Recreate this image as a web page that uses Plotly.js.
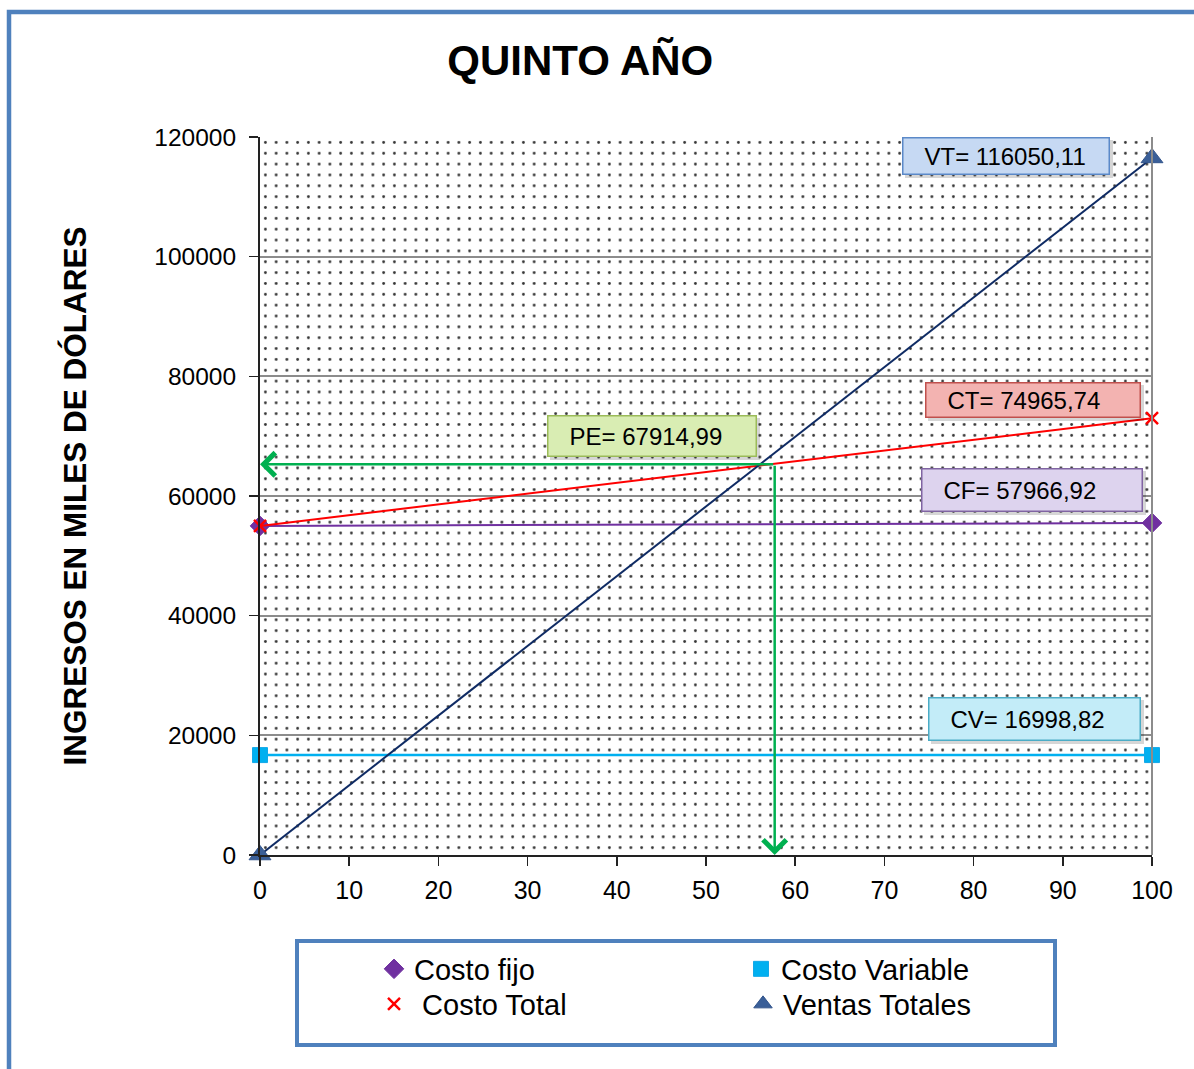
<!DOCTYPE html>
<html>
<head>
<meta charset="utf-8">
<script src="https://cdn.plot.ly/plotly-3.0.1.min.js"></script>
<style>
html,body{margin:0;padding:0;background:#fff;}
#chart{width:1194px;height:1069px;}
</style>
</head>
<body>
<div id="chart"></div>
<script>
// ---- data ----
const xVals = [0, 100];
const costoFijo = [55000, 55500];
const costoVariable = [16700, 16700];
const costoTotal = [55000, 73000];
const ventasTotales = [0, 116500];
const peX = 57.7;
const peY = 65300;
const seriesNames = ['Costo fijo', 'Costo Variable', 'Costo Total', 'Ventas Totales'];
const boxLabels = ['VT= 116050,11', 'CT= 74965,74', 'PE= 67914,99', 'CF= 57966,92', 'CV= 16998,82'];
const yTicks = [0, 20000, 40000, 60000, 80000, 100000, 120000];
const xTicks = [0, 10, 20, 30, 40, 50, 60, 70, 80, 90, 100];

const FONT = '"Liberation Sans", Arial, sans-serif';

// plot area in pixels (for decoration placement only)
const PL = 260, PR = 1152, PT = 137, PB = 855;
const px2x = p => (p - PL) / (PR - PL);
const px2y = p => (PB - p) / (PB - PT);

const styles = [
  {line: {color: '#7030a0', width: 2},
   marker: {symbol: 'diamond', size: 15, color: '#7030a0', line: {color: '#6a2a9c', width: 1}}},
  {line: {color: '#00b0f0', width: 2.5},
   marker: {symbol: 'square', size: 15, color: '#00b0f0', line: {color: '#13a8e8', width: 1}}},
  {line: {color: '#ff0000', width: 2},
   marker: {symbol: 'x-thin', size: 12, color: '#ff0000', line: {color: '#ff0000', width: 2.5}}},
  {line: {color: '#0f2b64', width: 2},
   marker: {symbol: 'triangle-up', size: 19, color: '#3a5f98', line: {color: '#33558c', width: 1}}}
];
const yData = [costoFijo, costoVariable, costoTotal, ventasTotales];
const legendIds = ['legend', 'legend2', 'legend3', 'legend4'];
const legendText = [seriesNames[0], seriesNames[1], '&nbsp;' + seriesNames[2], seriesNames[3]];

const traces = [];
yData.forEach((yv, i) => {
  traces.push({
    x: xVals, y: yv, name: seriesNames[i], mode: 'lines+markers', cliponaxis: false,
    showlegend: false, line: styles[i].line, marker: styles[i].marker
  });
});
// legend-only entries (marker only, like the reference legend)
yData.forEach((yv, i) => {
  traces.push({
    x: [null], y: [null], name: legendText[i], mode: 'markers', legend: legendIds[i],
    showlegend: true, marker: styles[i].marker
  });
});

// dotted plot-area background
const svg = "<svg xmlns='http://www.w3.org/2000/svg' width='892' height='718' viewBox='0 0 892 718' preserveAspectRatio='none'>" +
  "<defs><pattern id='p' x='0' y='0' width='10.75' height='10.85' patternUnits='userSpaceOnUse'>" +
  "<circle cx='5.4' cy='5.4' r='1.4' fill='#333333'/></pattern></defs>" +
  "<rect x='0' y='0' width='892' height='718' fill='url(#p)'/></svg>";
const bgImg = 'data:image/svg+xml;charset=utf-8,' + encodeURIComponent(svg);

function box(text, x, y, w, h, bg, border) {
  return {
    text: '&nbsp;&nbsp;&nbsp;' + text, x: x, y: y, xref: 'x', yref: 'y',
    xanchor: 'left', yanchor: 'top', showarrow: false, align: 'left', valign: 'middle',
    width: w - 5, height: h - 5, borderpad: 1, borderwidth: 1.5,
    bgcolor: bg, bordercolor: border,
    font: {family: FONT, size: 24, color: '#000'}
  };
}

// box pixel rectangles [left, top, width, height]
const boxes = [
  [902, 137, 208, 38, '#c6d9f3', '#5b89c8'],
  [925, 382, 216, 36, '#f3b3b1', '#c0504d'],
  [547, 415, 210, 42, '#d9edb3', '#9bbb59'],
  [921, 468, 222, 44, '#ddd3ee', '#8064a2'],
  [928, 697, 213, 44, '#c3ecf8', '#4bacc6']
];

const annotations = boxes.map((b, i) =>
  box(boxLabels[i], px2x(b[0]) * 100, px2y(b[1]) * 120000, b[2], b[3], b[4], b[5]));
annotations.push(
  {x: 0, y: peY, ax: peX, ay: peY, xref: 'x', yref: 'y', axref: 'x', ayref: 'y',
   showarrow: true, arrowhead: 4, arrowsize: 1.8, arrowwidth: 2.5, arrowcolor: '#00b050', text: ''},
  {x: peX, y: 0, ax: peX, ay: peY, xref: 'x', yref: 'y', axref: 'x', ayref: 'y',
   showarrow: true, arrowhead: 4, arrowsize: 1.8, arrowwidth: 2.5, arrowcolor: '#00b050', text: ''}
);

const shapes = [
  // right border of plot area
  {type: 'line', xref: 'paper', yref: 'paper', x0: 1, x1: 1, y0: 0, y1: 1,
   line: {color: '#8c8c8c', width: 2}},
  // legend frame
  {type: 'rect', xref: 'paper', yref: 'paper', x0: px2x(297), x1: px2x(1055), y0: px2y(941), y1: px2y(1045),
   line: {color: '#4f81bd', width: 4}, fillcolor: 'rgba(0,0,0,0)'},
  // outer frame (top and left)
  {type: 'path', xref: 'paper', yref: 'paper',
   path: 'M ' + px2x(9) + ',' + px2y(1075) + ' L ' + px2x(9) + ',' + px2y(12) + ' L ' + px2x(1200) + ',' + px2y(12),
   line: {color: '#4f81bd', width: 4.5}}
];
// soft shadows behind the label boxes
boxes.forEach(b => {
  shapes.push({type: 'rect', xref: 'paper', yref: 'paper', layer: 'above',
    x0: px2x(b[0] + 3), x1: px2x(b[0] + b[2] + 3), y0: px2y(b[1] + 3), y1: px2y(b[1] + b[3] + 3),
    line: {width: 0}, fillcolor: 'rgba(0,0,0,0.16)'});
});

const legendFont = {family: FONT, size: 29, color: '#000'};
const legBase = {xanchor: 'left', yanchor: 'top', bgcolor: 'rgba(0,0,0,0)', borderwidth: 0, font: legendFont};

const layout = {
  width: 1194, height: 1069,
  margin: {l: 260, r: 42, t: 137, b: 214},
  paper_bgcolor: '#ffffff',
  plot_bgcolor: 'rgba(0,0,0,0)',
  font: {family: FONT, color: '#000'},
  title: {
    text: '<b>QUINTO AÑO</b>', x: 0.486, xref: 'container', xanchor: 'center',
    y: 0.944, yref: 'container', yanchor: 'middle',
    font: {family: FONT, size: 42, color: '#000'}
  },
  xaxis: {
    range: [0, 100], tickvals: xTicks, ticktext: xTicks.map(String),
    showgrid: false, zeroline: false,
    showline: true, linecolor: '#222', linewidth: 2,
    ticks: 'outside', ticklen: 9, tickcolor: '#222', tickwidth: 1.5, ticklabelstandoff: 3,
    tickfont: {family: FONT, size: 25, color: '#000'}
  },
  yaxis: {
    range: [0, 120000], tickvals: yTicks, ticktext: yTicks.map(String),
    showgrid: true, gridcolor: '#8c8c8c', gridwidth: 2, zeroline: false,
    showline: true, linecolor: '#222', linewidth: 2,
    ticks: 'outside', ticklen: 9, tickcolor: '#222', tickwidth: 1.5, ticklabelstandoff: 8,
    tickfont: {family: FONT, size: 24.5, color: '#000'},
    title: {text: '<b>INGRESOS EN MILES DE DÓLARES</b>', standoff: 58,
            font: {family: FONT, size: 31.5, color: '#000'}}
  },
  showlegend: true,
  legend: Object.assign({x: px2x(374), y: px2y(943.5)}, legBase),
  legend2: Object.assign({x: px2x(741), y: px2y(943.5)}, legBase),
  legend3: Object.assign({x: px2x(374), y: px2y(978.5)}, legBase),
  legend4: Object.assign({x: px2x(743), y: px2y(978.5)}, legBase),
  images: [{
    source: bgImg, xref: 'paper', yref: 'paper', x: 0, y: 1, sizex: 1, sizey: 1,
    sizing: 'stretch', layer: 'below', xanchor: 'left', yanchor: 'top'
  }],
  annotations: annotations,
  shapes: shapes
};

Plotly.newPlot('chart', traces, layout, {displayModeBar: false, staticPlot: true});
</script>
</body>
</html>
